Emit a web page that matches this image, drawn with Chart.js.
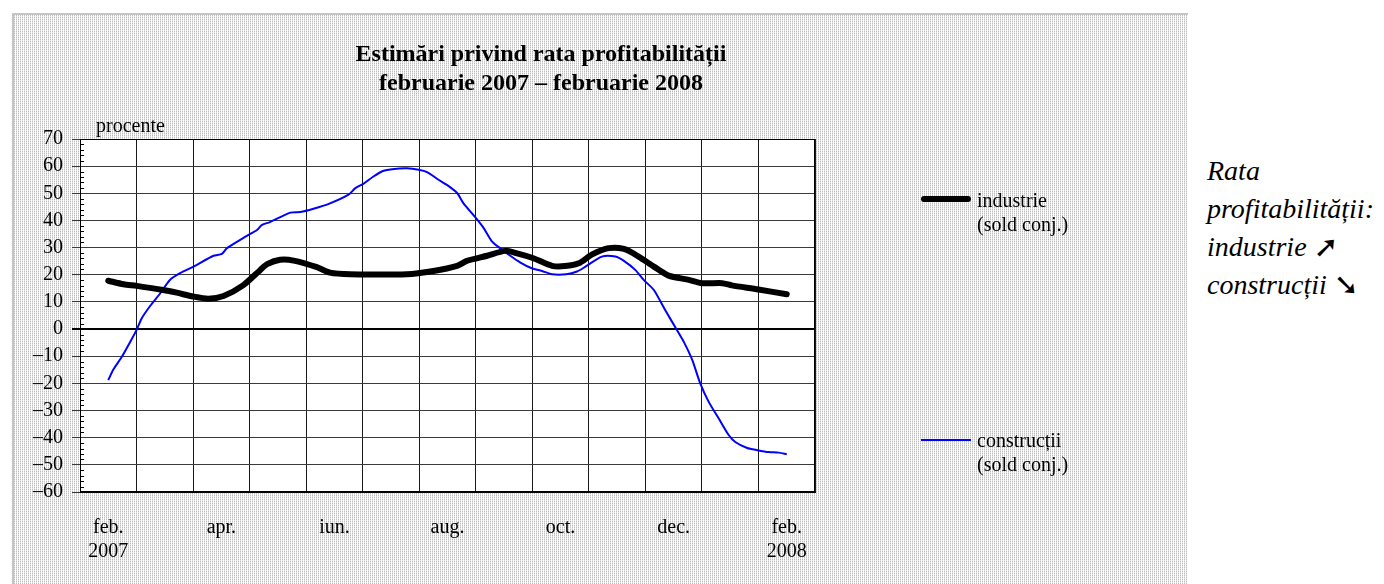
<!DOCTYPE html>
<html lang="ro">
<head>
<meta charset="utf-8">
<title>Estimări privind rata profitabilității</title>
<script src="https://cdn.jsdelivr.net/npm/chart.js@4"></script>
<style>
  html, body { margin: 0; padding: 0; background: #fff; }
  body { width: 1384px; height: 584px; position: relative; overflow: hidden;
         font-family: "Liberation Serif", "Times New Roman", serif; color: #000; }
  .frame { position: absolute; left: 12px; top: 13px; width: 1174px; height: 580px;
           border-top: 2px solid #c4c4c4; border-left: 2px solid #c4c4c4;
           background-color: #fff;
           background-image:
             repeating-linear-gradient(0deg, rgba(255,255,255,.55) 0 1px, transparent 1px 2px),
             repeating-linear-gradient(90deg, #bdbdbd 0 1px, #fff 1px 2px); }
  .wrap { position: absolute; left: 0; top: 0; width: 1190px; height: 584px; }
  .title { position: absolute; left: 241px; width: 600px; top: 39px; text-align: center;
           font-weight: bold; font-size: 24px; line-height: 29px; }
  .unit { position: absolute; left: 96px; top: 114px; font-size: 20px; }
  .leg { position: absolute; left: 977px; font-size: 20px; line-height: 24px; }
  .leg .sw { position: absolute; left: -56px; width: 50px; }
  .note { position: absolute; left: 1207px; top: 152px; font-style: italic; font-size: 28px; line-height: 38px; }
  .note .ar { font-style: normal; font-family: "DejaVu Sans", sans-serif; font-weight: bold;
              font-size: 30px; line-height: 20px; vertical-align: -1px; }
</style>
</head>
<body>
<div class="frame"></div>
<div class="wrap"><canvas id="c"></canvas></div>
<div class="title">Estimări privind rata profitabilității<br>februarie 2007 – februarie 2008</div>
<div class="unit">procente</div>
<div class="leg" style="top:188px"><span class="sw" style="top:8px;height:6px;background:#000;border-radius:3px"></span>industrie<br>(sold conj.)</div>
<div class="leg" style="top:428px"><span class="sw" style="top:11px;height:2px;background:#0000ff"></span>construcții<br>(sold conj.)</div>
<div class="note">Rata<br>profitabilității:<br>industrie <span class="ar">➚</span><br>construcții <span class="ar">➘</span></div>
<script>
// month labels, feb. 2007 .. feb. 2008 (13 months)
const monthLabels = [['feb.', '2007'], '', 'apr.', '', 'iun.', '', 'aug.', '', 'oct.', '', 'dec.', '', ['feb.', '2008']];

// positions in months from feb. 2007 (0) to feb. 2008 (12)
const industrieX = [0, 0.27, 0.5, 0.97, 1.21, 1.5, 1.77, 2.04, 2.39, 2.69, 2.81, 3.04, 3.28, 3.69, 3.92,
  4.28, 5.28, 5.75, 6.17, 6.34, 6.7, 7.02, 7.23, 7.52, 7.85, 8.08, 8.32, 8.56, 8.85, 9.12,
  9.38, 9.65, 9.91, 10.27, 10.5, 10.86, 11.03, 11.5, 12];
const industrieY = [17.8, 16.5, 15.9, 14.4, 13.4, 12.0, 11.2, 12.2, 16.2, 21.8, 23.9, 25.5, 25.2, 22.8, 20.8,
  20.2, 20.2, 21.4, 23.3, 25.1, 27.0, 28.8, 27.9, 26.1, 23.3, 23.2, 24.2, 27.5, 29.8, 29.5,
  26.7, 23.0, 19.7, 18.1, 16.9, 16.9, 16.1, 14.6, 12.8];

const constructiiX = [0, 0.09, 0.24, 0.38, 0.5, 0.59, 0.74, 0.92, 1.09, 1.27, 1.51, 1.86, 2.01, 2.1, 2.45,
  2.63, 2.72, 2.86, 3.22, 3.4, 3.63, 3.9, 4.25, 4.37, 4.51, 4.69, 4.87, 5.02, 5.28, 5.49,
  5.64, 5.84, 5.99, 6.17, 6.28, 6.49, 6.64, 6.79, 6.93, 7.11, 7.29, 7.49, 7.67, 7.85, 8.1,
  8.29, 8.44, 8.73, 8.97, 9.12, 9.32, 9.47, 9.65, 9.85, 10.06, 10.18, 10.33, 10.47, 10.62, 10.8,
  10.97, 11.09, 11.3, 11.48, 11.68, 11.86, 12];
const constructiiY = [-18.8, -14.9, -10.2, -5.0, -0.4, 3.9, 8.5, 13.2, 18.1, 20.6, 23.0, 27.0, 27.7, 29.8, 34.3,
  36.5, 38.4, 39.4, 42.9, 43.1, 44.3, 46.1, 49.5, 51.9, 53.5, 56.2, 58.3, 58.9, 59.2, 58.7,
  57.8, 55.0, 53.1, 50.1, 46.4, 41.2, 37.2, 32.2, 29.8, 27.0, 24.5, 22.4, 21.4, 20.2, 20.2,
  21.2, 23.0, 26.7, 26.7, 25.1, 21.8, 18.1, 14.4, 7.0, -0.4, -4.7, -11.4, -20.0, -26.8, -33.0,
  -38.9, -41.6, -43.8, -44.6, -45.3, -45.5, -46.1];

const yMin = -60, yMax = 70, yStep = 10, yMinorStep = 2;

function pts(xs, ys) { return xs.map((x, i) => ({ x: x, y: ys[i] })); }

const FONT = { family: '"Liberation Serif", "Times New Roman", serif', size: 20 };

// white plot background + minor ticks on the inside of the y axis
const plotDecor = {
  id: 'plotDecor',
  beforeDraw(chart) {
    const a = chart.chartArea, ctx = chart.ctx;
    ctx.save();
    ctx.fillStyle = '#fff';
    ctx.fillRect(a.left, a.top, a.right - a.left, a.bottom - a.top);
    ctx.restore();
  },
  afterDraw(chart) {
    const y = chart.scales.y, a = chart.chartArea, ctx = chart.ctx;
    ctx.save();
    ctx.strokeStyle = '#000';
    ctx.lineWidth = 1;
    ctx.beginPath();
    for (let v = yMin; v <= yMax; v += yMinorStep) {
      if (v % yStep === 0) continue;
      const py = Math.round(y.getPixelForValue(v)) + 0.5;
      ctx.moveTo(a.left, py);
      ctx.lineTo(a.left + 4, py);
    }
    ctx.stroke();
    ctx.strokeRect(a.left + 0.5, a.top + 0.5, a.right - a.left - 1, a.bottom - a.top - 1);
    ctx.restore();
  }
};

new Chart(document.getElementById('c'), {
  type: 'line',
  data: {
    datasets: [
      { label: 'industrie (sold conj.)', data: pts(industrieX, industrieY), xAxisID: 'x',
        borderColor: '#000', borderWidth: 6, borderCapStyle: 'round', borderJoinStyle: 'round',
        pointRadius: 0, tension: 0.25, fill: false },
      { label: 'construcții (sold conj.)', data: pts(constructiiX, constructiiY), xAxisID: 'x',
        borderColor: '#0000ff', borderWidth: 2, borderJoinStyle: 'round',
        pointRadius: 0, tension: 0.25, fill: false }
    ]
  },
  options: {
    responsive: true, maintainAspectRatio: false, animation: false,
    layout: { padding: { left: 20, right: 375, top: 139, bottom: 22 } },
    plugins: { legend: { display: false }, tooltip: { enabled: false }, title: { display: false } },
    scales: {
      x: { type: 'linear', min: -0.5, max: 12.5, display: false },
      xLab: {
        type: 'category', labels: monthLabels, position: 'bottom', offset: true,
        grid: { offset: true, color: '#1a1a1a', drawTicks: false },
        border: { color: '#000' },
        ticks: { font: FONT, color: '#000', padding: 24, autoSkip: false, maxRotation: 0 },
        afterFit(s) { s.height = 70; }
      },
      y: {
        min: yMin, max: yMax,
        grid: {
          tickLength: 8,
          color: c => (c.tick && c.tick.value === 0) ? '#000' : '#3a3a3a',
          lineWidth: c => (c.tick && c.tick.value === 0) ? 2 : 1
        },
        border: { color: '#000' },
        ticks: { stepSize: yStep, font: FONT, color: '#000', padding: 9,
          callback: v => v < 0 ? '\u2013' + Math.abs(v) : String(v) },
        afterFit(s) { s.width = 60; }
      }
    }
  },
  plugins: [plotDecor]
});
</script>
</body>
</html>
